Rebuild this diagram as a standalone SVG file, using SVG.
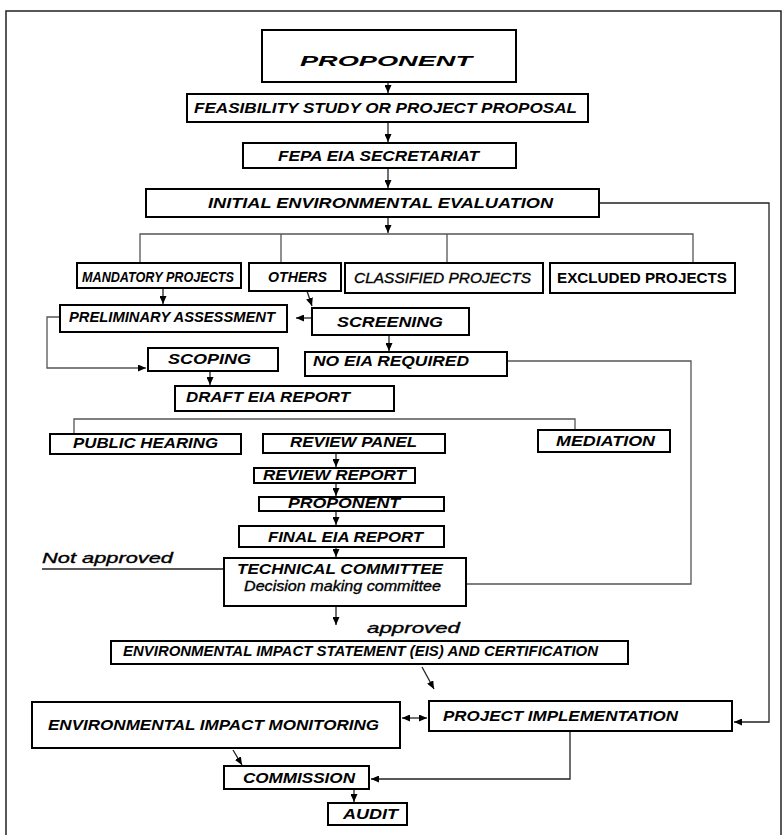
<svg xmlns="http://www.w3.org/2000/svg" width="783" height="835" viewBox="0 0 783 835">
<defs>
<style>
.box{fill:#fff;stroke:#000;stroke-width:2}
.t{font-family:"Liberation Sans",Arial,sans-serif;font-style:italic;font-weight:bold;font-size:15px;fill:#000}
.u{font-style:normal}
.n{font-weight:normal;stroke:#000;stroke-width:0.35}
.c{stroke:#222;stroke-width:1.3;fill:none}
.g{stroke:#555;stroke-width:1.3;fill:none}
</style>
<marker id="ah" markerUnits="userSpaceOnUse" markerWidth="9" markerHeight="7" refX="8" refY="3.5" orient="auto">
<path d="M0,0 L8,3.5 L0,7 z" fill="#000"/>
</marker>
<marker id="ahs" markerUnits="userSpaceOnUse" markerWidth="9" markerHeight="7" refX="0" refY="3.5" orient="auto">
<path d="M8,0 L0,3.5 L8,7 z" fill="#000"/>
</marker>
</defs>
<rect x="0" y="0" width="783" height="835" fill="#fff"/>
<rect x="6" y="11" width="775" height="840" fill="none" stroke="#222" stroke-width="1.5"/>

<g id="connectors">
<path class="c" d="M388,82 V93" marker-end="url(#ah)"/>
<path class="c" d="M388,122 V142" marker-end="url(#ah)"/>
<path class="c" d="M388,168 V188" marker-end="url(#ah)"/>
<path class="c" d="M388,217 V233" marker-end="url(#ah)"/>
<path class="g" d="M140,263 V234 H693 V263 M281,234 V263 M447,234 V263"/>
<path class="c" stroke-width="2" d="M599,203 H769 V722 H734" marker-end="url(#ah)"/>
<path class="c" d="M163,288 V304" marker-end="url(#ah)"/>
<path class="c" d="M307,291 L312,306" marker-end="url(#ah)"/>
<path class="c" d="M312,318 H296" marker-end="url(#ah)"/>
<path class="g" d="M60,317 H47 V368 H146" marker-end="url(#ah)"/>
<path class="c" d="M389,335 V351" marker-end="url(#ah)"/>
<path class="c" d="M210,371 V385" marker-end="url(#ah)"/>
<path class="g" d="M507,361 H691 V584 H466"/>
<path class="g" d="M74,434 V419 H575 V430"/>
<path class="c" d="M336,453 V467" marker-end="url(#ah)"/>
<path class="c" d="M336,483 V496" marker-end="url(#ah)"/>
<path class="c" d="M336,511 V525" marker-end="url(#ah)"/>
<path class="c" d="M336,547 V557" marker-end="url(#ah)"/>
<path class="c" d="M42,569 H224"/>
<path class="c" stroke-width="2" d="M336,606 V625" marker-end="url(#ah)"/>
<path class="c" stroke-width="2.5" d="M422,667 L434,689" marker-end="url(#ah)"/>
<path class="c" d="M402,718 H427" marker-start="url(#ahs)" marker-end="url(#ah)"/>
<path class="c" d="M233,750 L242,765" marker-end="url(#ah)"/>
<path class="c" d="M570,731 V779 H371" marker-end="url(#ah)"/>
<path class="c" d="M354,789 V802" marker-end="url(#ah)"/>
</g>

<g id="proponent"><rect class="box" x="262" y="30" width="254" height="52"/><text class="t" x="300" y="66" font-size="26" textLength="172" lengthAdjust="spacingAndGlyphs">PROPONENT</text></g>
<g id="feasibility"><rect class="box" x="187" y="94" width="401" height="28"/><text class="t" x="194" y="113" textLength="383" lengthAdjust="spacingAndGlyphs">FEASIBILITY STUDY OR PROJECT PROPOSAL</text></g>
<g id="fepa"><rect class="box" x="243" y="143" width="273" height="25"/><text class="t" x="278" y="161" textLength="201" lengthAdjust="spacingAndGlyphs">FEPA EIA SECRETARIAT</text></g>
<g id="initial"><rect class="box" x="146" y="189" width="453" height="28"/><text class="t" x="208" y="208" textLength="345" lengthAdjust="spacingAndGlyphs">INITIAL ENVIRONMENTAL EVALUATION</text></g>
<g id="mandatory"><rect class="box" x="77" y="263" width="164" height="25"/><text class="t" x="82" y="282" font-size="14" textLength="152" lengthAdjust="spacingAndGlyphs">MANDATORY PROJECTS</text></g>
<g id="others"><rect class="box" x="249" y="263" width="92" height="28"/><text class="t" x="268" y="282" textLength="59" lengthAdjust="spacingAndGlyphs">OTHERS</text></g>
<g id="classified"><rect class="box" x="345" y="263" width="198" height="30"/><text class="t n" x="354" y="283" textLength="177" lengthAdjust="spacingAndGlyphs">CLASSIFIED PROJECTS</text></g>
<g id="excluded"><rect class="box" x="550" y="263" width="185" height="30"/><text class="t u" x="557" y="283" textLength="170" lengthAdjust="spacingAndGlyphs">EXCLUDED PROJECTS</text></g>
<g id="preliminary"><rect class="box" x="60" y="305" width="227" height="27"/><text class="t" x="69" y="322" textLength="206" lengthAdjust="spacingAndGlyphs">PRELIMINARY ASSESSMENT</text></g>
<g id="screening"><rect class="box" x="312" y="308" width="157" height="27"/><text class="t" x="337" y="327" textLength="106" lengthAdjust="spacingAndGlyphs">SCREENING</text></g>
<g id="scoping"><rect class="box" x="148" y="348" width="130" height="23"/><text class="t" x="168" y="364" textLength="83" lengthAdjust="spacingAndGlyphs">SCOPING</text></g>
<g id="no-eia"><rect class="box" x="305" y="352" width="202" height="24"/><text class="t" x="313" y="366" textLength="156" lengthAdjust="spacingAndGlyphs">NO EIA REQUIRED</text></g>
<g id="draft"><rect class="box" x="175" y="386" width="219" height="25"/><text class="t" x="186" y="402" textLength="164" lengthAdjust="spacingAndGlyphs">DRAFT EIA REPORT</text></g>
<g id="public-hearing"><rect class="box" x="50" y="434" width="191" height="20"/><text class="t" x="73" y="448" textLength="145" lengthAdjust="spacingAndGlyphs">PUBLIC HEARING</text></g>
<g id="review-panel"><rect class="box" x="263" y="434" width="182" height="19"/><text class="t" x="290" y="447" textLength="127" lengthAdjust="spacingAndGlyphs">REVIEW PANEL</text></g>
<g id="mediation"><rect class="box" x="538" y="430" width="132" height="22"/><text class="t" x="556" y="446" textLength="99" lengthAdjust="spacingAndGlyphs">MEDIATION</text></g>
<g id="review-report"><rect class="box" x="254" y="468" width="161" height="15"/><text class="t" x="263" y="480" font-size="14" textLength="143" lengthAdjust="spacingAndGlyphs">REVIEW REPORT</text></g>
<g id="proponent2"><rect class="box" x="259" y="497" width="185" height="14"/><text class="t" x="288" y="508" font-size="14" textLength="112" lengthAdjust="spacingAndGlyphs">PROPONENT</text></g>
<g id="final"><rect class="box" x="239" y="526" width="205" height="21"/><text class="t" x="268" y="542" textLength="155" lengthAdjust="spacingAndGlyphs">FINAL EIA REPORT</text></g>
<g id="technical"><rect class="box" x="224" y="558" width="242" height="48"/><text class="t" x="237" y="574" textLength="206" lengthAdjust="spacingAndGlyphs">TECHNICAL COMMITTEE</text><text class="t n" x="244" y="591" font-size="13" textLength="197" lengthAdjust="spacingAndGlyphs">Decision making committee</text></g>
<g id="not-approved"><text class="t n" x="42" y="563" font-size="17" textLength="131" lengthAdjust="spacingAndGlyphs">Not approved</text></g>
<g id="approved"><text class="t n" x="367" y="633" font-size="17" textLength="93" lengthAdjust="spacingAndGlyphs">approved</text></g>
<g id="eis"><rect class="box" x="111" y="641" width="517" height="23"/><text class="t" x="123" y="656" font-size="14" textLength="475" lengthAdjust="spacingAndGlyphs">ENVIRONMENTAL IMPACT STATEMENT (EIS) AND CERTIFICATION</text></g>
<g id="monitoring"><rect class="box" x="32" y="702" width="368" height="46"/><text class="t" x="48" y="730" font-size="16" textLength="331" lengthAdjust="spacingAndGlyphs">ENVIRONMENTAL IMPACT MONITORING</text></g>
<g id="implementation"><rect class="box" x="429" y="701" width="303" height="30"/><text class="t" x="443" y="721" textLength="235" lengthAdjust="spacingAndGlyphs">PROJECT IMPLEMENTATION</text></g>
<g id="commission"><rect class="box" x="224" y="766" width="145" height="23"/><text class="t" x="243" y="783" textLength="112" lengthAdjust="spacingAndGlyphs">COMMISSION</text></g>
<g id="audit"><rect class="box" x="328" y="803" width="79" height="22"/><text class="t" x="343" y="819" textLength="55" lengthAdjust="spacingAndGlyphs">AUDIT</text></g>
</svg>
